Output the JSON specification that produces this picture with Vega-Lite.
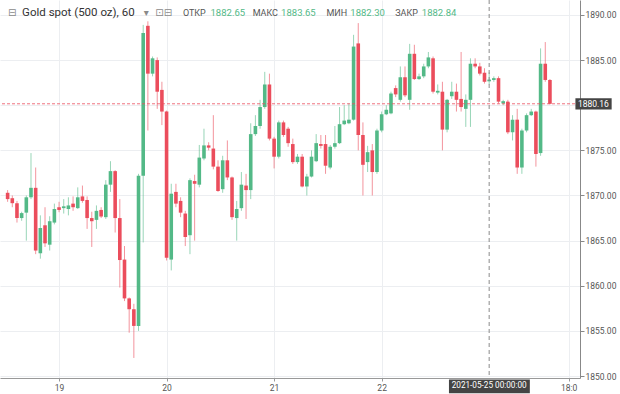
{
  "$schema": "https://vega.github.io/schema/vega-lite/v6.json",
  "width": 580,
  "height": 378,
  "autosize": {"type": "none"},
  "padding": {"left": 0, "top": 0, "right": 40, "bottom": 16},
  "background": "white",
  "config": {"view": {"stroke": null}, "font": "Roboto", "axis": {"labelFont": "Roboto"}},
  "datasets": {
    "candles": [
      {"k":0,"o":1870.3,"h":1870.6,"l":1869.3,"c":1869.6},
      {"k":1,"o":1869.7,"h":1870.0,"l":1868.7,"c":1869.15},
      {"k":2,"o":1869.15,"h":1869.4,"l":1867.0,"c":1867.5},
      {"k":3,"o":1867.5,"h":1868.2,"l":1867.2,"c":1868.05},
      {"k":4,"o":1868.1,"h":1870.0,"l":1865.0,"c":1869.8},
      {"k":5,"o":1869.8,"h":1874.7,"l":1869.6,"c":1870.85},
      {"k":6,"o":1870.85,"h":1873.1,"l":1863.5,"c":1863.9},
      {"k":7,"o":1863.6,"h":1867.8,"l":1863.0,"c":1866.4},
      {"k":8,"o":1866.7,"h":1868.7,"l":1864.3,"c":1864.7},
      {"k":9,"o":1864.55,"h":1867.7,"l":1863.9,"c":1867.15},
      {"k":10,"o":1867.0,"h":1869.1,"l":1866.8,"c":1868.5},
      {"k":11,"o":1868.7,"h":1869.3,"l":1868.15,"c":1868.4},
      {"k":12,"o":1868.6,"h":1869.6,"l":1868.0,"c":1868.8},
      {"k":13,"o":1868.5,"h":1869.8,"l":1867.8,"c":1868.9},
      {"k":14,"o":1869.1,"h":1869.9,"l":1868.3,"c":1868.7},
      {"k":15,"o":1868.6,"h":1870.9,"l":1868.5,"c":1869.8},
      {"k":16,"o":1869.9,"h":1871.1,"l":1869.2,"c":1869.4},
      {"k":17,"o":1869.5,"h":1869.9,"l":1866.3,"c":1867.5},
      {"k":18,"o":1867.5,"h":1868.2,"l":1864.3,"c":1867.15},
      {"k":19,"o":1867.3,"h":1868.9,"l":1866.3,"c":1868.3},
      {"k":20,"o":1868.4,"h":1868.7,"l":1867.5,"c":1867.67},
      {"k":21,"o":1867.6,"h":1871.7,"l":1867.4,"c":1871.2},
      {"k":22,"o":1871.2,"h":1873.8,"l":1870.4,"c":1872.7},
      {"k":23,"o":1872.7,"h":1872.8,"l":1865.9,"c":1867.5},
      {"k":24,"o":1867.5,"h":1869.6,"l":1859.8,"c":1862.85},
      {"k":25,"o":1862.9,"h":1864.4,"l":1858.3,"c":1858.6},
      {"k":26,"o":1858.6,"h":1858.7,"l":1854.8,"c":1857.4},
      {"k":27,"o":1857.4,"h":1858.0,"l":1852.0,"c":1855.55},
      {"k":28,"o":1855.55,"h":1872.4,"l":1855.0,"c":1872.2},
      {"k":29,"o":1872.2,"h":1888.9,"l":1864.8,"c":1888.0},
      {"k":30,"o":1888.8,"h":1889.3,"l":1877.2,"c":1883.5},
      {"k":31,"o":1883.5,"h":1885.4,"l":1883.2,"c":1885.2},
      {"k":32,"o":1885.0,"h":1885.3,"l":1879.6,"c":1881.5},
      {"k":33,"o":1881.7,"h":1882.6,"l":1877.8,"c":1879.3},
      {"k":34,"o":1879.3,"h":1879.4,"l":1862.8,"c":1863.1},
      {"k":35,"o":1862.9,"h":1871.3,"l":1861.7,"c":1870.2},
      {"k":36,"o":1870.4,"h":1871.3,"l":1868.7,"c":1869.1},
      {"k":37,"o":1869.4,"h":1869.8,"l":1867.6,"c":1868.1},
      {"k":38,"o":1868.0,"h":1868.3,"l":1864.4,"c":1865.4},
      {"k":39,"o":1865.6,"h":1871.9,"l":1863.5,"c":1871.7},
      {"k":40,"o":1871.6,"h":1872.3,"l":1865.0,"c":1871.3},
      {"k":41,"o":1871.2,"h":1875.6,"l":1870.9,"c":1874.2},
      {"k":42,"o":1874.1,"h":1877.4,"l":1873.9,"c":1875.55},
      {"k":43,"o":1875.55,"h":1875.9,"l":1875.0,"c":1875.3},
      {"k":44,"o":1875.2,"h":1878.9,"l":1872.9,"c":1873.2},
      {"k":45,"o":1873.2,"h":1873.9,"l":1870.4,"c":1870.5},
      {"k":46,"o":1870.7,"h":1874.4,"l":1870.3,"c":1873.9},
      {"k":47,"o":1873.9,"h":1876.1,"l":1871.7,"c":1872.0},
      {"k":48,"o":1872.0,"h":1872.1,"l":1867.3,"c":1867.6},
      {"k":49,"o":1867.5,"h":1869.4,"l":1865.0,"c":1868.5},
      {"k":50,"o":1868.6,"h":1872.6,"l":1868.3,"c":1871.2},
      {"k":51,"o":1871.1,"h":1872.4,"l":1867.4,"c":1870.6},
      {"k":52,"o":1870.6,"h":1878.0,"l":1869.6,"c":1876.8},
      {"k":53,"o":1876.8,"h":1878.9,"l":1876.6,"c":1877.7},
      {"k":54,"o":1877.7,"h":1880.6,"l":1877.4,"c":1879.8},
      {"k":55,"o":1879.8,"h":1883.7,"l":1879.6,"c":1882.3},
      {"k":56,"o":1882.3,"h":1883.5,"l":1876.1,"c":1876.3},
      {"k":57,"o":1876.3,"h":1876.5,"l":1873.0,"c":1874.3},
      {"k":58,"o":1874.3,"h":1878.3,"l":1874.1,"c":1878.1},
      {"k":59,"o":1878.1,"h":1878.3,"l":1876.5,"c":1876.7},
      {"k":60,"o":1877.4,"h":1877.6,"l":1875.4,"c":1875.8},
      {"k":61,"o":1875.7,"h":1876.3,"l":1873.5,"c":1873.7},
      {"k":62,"o":1873.7,"h":1874.6,"l":1873.5,"c":1874.3},
      {"k":63,"o":1874.3,"h":1874.6,"l":1870.9,"c":1871.0},
      {"k":64,"o":1871.0,"h":1872.4,"l":1870.0,"c":1872.1},
      {"k":65,"o":1872.1,"h":1875.0,"l":1872.0,"c":1874.3},
      {"k":66,"o":1873.8,"h":1876.8,"l":1873.7,"c":1875.8},
      {"k":67,"o":1875.7,"h":1876.7,"l":1875.2,"c":1875.5},
      {"k":68,"o":1875.7,"h":1876.7,"l":1872.4,"c":1873.3},
      {"k":69,"o":1873.1,"h":1875.6,"l":1872.9,"c":1875.4},
      {"k":70,"o":1875.4,"h":1877.7,"l":1875.2,"c":1875.8},
      {"k":71,"o":1875.8,"h":1879.8,"l":1875.7,"c":1877.9},
      {"k":72,"o":1877.9,"h":1880.0,"l":1877.8,"c":1878.3},
      {"k":73,"o":1878.0,"h":1880.2,"l":1877.9,"c":1878.4},
      {"k":74,"o":1878.4,"h":1887.8,"l":1878.3,"c":1886.5},
      {"k":75,"o":1886.85,"h":1889.1,"l":1875.0,"c":1876.7},
      {"k":76,"o":1876.7,"h":1878.1,"l":1870.0,"c":1873.4},
      {"k":77,"o":1873.7,"h":1875.5,"l":1872.6,"c":1874.8},
      {"k":78,"o":1875.0,"h":1875.7,"l":1870.0,"c":1872.6},
      {"k":79,"o":1872.6,"h":1877.4,"l":1872.4,"c":1877.2},
      {"k":80,"o":1877.2,"h":1879.3,"l":1877.0,"c":1879.0},
      {"k":81,"o":1879.0,"h":1880.0,"l":1878.9,"c":1879.5},
      {"k":82,"o":1879.1,"h":1881.5,"l":1879.0,"c":1881.3},
      {"k":83,"o":1881.9,"h":1882.2,"l":1880.9,"c":1881.2},
      {"k":84,"o":1880.6,"h":1884.3,"l":1880.4,"c":1883.1},
      {"k":85,"o":1883.1,"h":1884.3,"l":1880.9,"c":1881.1},
      {"k":86,"o":1880.6,"h":1886.8,"l":1879.5,"c":1885.7},
      {"k":87,"o":1885.7,"h":1886.7,"l":1882.8,"c":1882.9},
      {"k":88,"o":1882.9,"h":1883.5,"l":1882.8,"c":1883.2},
      {"k":89,"o":1883.2,"h":1884.6,"l":1883.0,"c":1884.3},
      {"k":90,"o":1884.3,"h":1885.9,"l":1884.1,"c":1885.3},
      {"k":91,"o":1885.2,"h":1885.4,"l":1881.3,"c":1881.5},
      {"k":92,"o":1881.4,"h":1882.3,"l":1881.2,"c":1881.6},
      {"k":93,"o":1881.5,"h":1882.6,"l":1875.0,"c":1877.3},
      {"k":94,"o":1877.3,"h":1880.7,"l":1877.0,"c":1880.6},
      {"k":95,"o":1881.0,"h":1882.6,"l":1880.7,"c":1881.5},
      {"k":96,"o":1881.5,"h":1882.4,"l":1879.3,"c":1880.6},
      {"k":97,"o":1880.7,"h":1885.9,"l":1879.3,"c":1879.8},
      {"k":98,"o":1879.6,"h":1881.2,"l":1877.6,"c":1880.6},
      {"k":99,"o":1880.6,"h":1885.2,"l":1877.6,"c":1884.6},
      {"k":100,"o":1884.6,"h":1885.2,"l":1884.1,"c":1884.3},
      {"k":101,"o":1884.3,"h":1884.7,"l":1883.3,"c":1883.5},
      {"k":102,"o":1883.6,"h":1884.1,"l":1882.4,"c":1882.6},
      {"k":103,"o":1882.65,"h":1883.65,"l":1882.3,"c":1882.84},
      {"k":104,"o":1882.8,"h":1883.2,"l":1882.6,"c":1883.0},
      {"k":105,"o":1883.0,"h":1883.2,"l":1880.2,"c":1880.4},
      {"k":106,"o":1880.2,"h":1880.6,"l":1880.0,"c":1880.45},
      {"k":107,"o":1880.4,"h":1880.6,"l":1876.8,"c":1877.0},
      {"k":108,"o":1877.0,"h":1878.9,"l":1876.1,"c":1878.4},
      {"k":109,"o":1878.4,"h":1879.6,"l":1872.4,"c":1873.1},
      {"k":110,"o":1873.1,"h":1877.4,"l":1872.4,"c":1877.2},
      {"k":111,"o":1877.2,"h":1879.1,"l":1877.0,"c":1878.9},
      {"k":112,"o":1878.9,"h":1879.6,"l":1878.8,"c":1879.3},
      {"k":113,"o":1879.3,"h":1879.4,"l":1873.2,"c":1874.6},
      {"k":114,"o":1874.7,"h":1886.3,"l":1874.4,"c":1884.6},
      {"k":115,"o":1884.6,"h":1887.0,"l":1882.6,"c":1882.8},
      {"k":116,"o":1882.8,"h":1882.9,"l":1880.1,"c":1880.16}
    ],
    "header": [
      {"k":0.07,"t":"⊟","g":"icon"},
      {"k":3.1,"t":"Gold spot (500 oz), 60","g":"name"},
      {"k":29.1,"t":"▾","g":"icon"},
      {"k":31.6,"t":"⊡⊟","g":"icon"},
      {"k":37.49,"t":"ОТКР","g":"lbl"},
      {"k":43.4,"t":"1882.65","g":"val"},
      {"k":52.41,"t":"МАКС","g":"lbl"},
      {"k":58.5,"t":"1883.65","g":"val"},
      {"k":68.18,"t":"МИН","g":"lbl"},
      {"k":73.3,"t":"1882.30","g":"val"},
      {"k":82.9,"t":"ЗАКР","g":"lbl"},
      {"k":88.6,"t":"1882.84","g":"val"}
    ],
    "one": [{}]
  },
  "layer": [
    {
      "data": {"name": "candles"},
      "mark": {"type": "rule", "strokeWidth": 1, "opacity": 0.6},
      "encoding": {
        "x": {"field": "k", "type": "quantitative",
          "scale": {"domain": [-0.561, 121.36], "nice": false, "zero": false},
          "axis": {"orient": "bottom", "title": null, "values": [11, 34, 57, 80, 120],
            "labelExpr": "datum.value==11?'19':datum.value==34?'20':datum.value==57?'21':datum.value==80?'22':'18:0'",
            "grid": true, "gridColor": "#eceef1", "tickSize": 3, "tickColor": "#999", "domainColor": "#999",
            "labelFontSize": 8.5, "labelColor": "#555", "labelPadding": 2}},
        "y": {"field": "l", "type": "quantitative",
          "scale": {"domain": [1849.78, 1891.66], "nice": false, "zero": false},
          "axis": {"orient": "right", "title": null,
            "values": [1850, 1852.5, 1855, 1857.5, 1860, 1862.5, 1865, 1867.5, 1870, 1872.5, 1875, 1877.5, 1880, 1882.5, 1885, 1887.5, 1890],
            "labelExpr": "datum.value == 1880 ? '' : format(datum.value, '.2f')",
            "grid": true, "gridColor": "#eceef1", "tickSize": 4, "tickColor": "#888", "domainColor": "#888",
            "labelFontSize": 8.5, "labelColor": "#555", "labelPadding": 1}},
        "y2": {"field": "h"},
        "color": {"condition": {"test": "datum.c >= datum.o", "value": "#53b987"}, "value": "#eb4d5c"}
      }
    },
    {
      "data": {"name": "candles"},
      "mark": {"type": "bar", "width": 3.6},
      "encoding": {
        "x": {"field": "k", "type": "quantitative"},
        "y": {"field": "o", "type": "quantitative"},
        "y2": {"field": "c"},
        "color": {"condition": {"test": "datum.c >= datum.o", "value": "#53b987"}, "value": "#eb4d5c"}
      }
    },
    {
      "data": {"name": "one"},
      "mark": {"type": "rule", "stroke": "#eb4d5c", "strokeDash": [3, 2], "strokeWidth": 1, "opacity": 0.8},
      "encoding": {"y": {"datum": 1880.16, "type": "quantitative"}}
    },
    {
      "data": {"name": "one"},
      "mark": {"type": "rule", "stroke": "#8a8a8a", "strokeDash": [4, 3], "strokeWidth": 1},
      "encoding": {"x": {"datum": 103, "type": "quantitative"}}
    },
    {
      "data": {"name": "one"},
      "mark": {"type": "rect", "fill": "#444"},
      "encoding": {
        "x": {"datum": 121.45, "type": "quantitative"}, "x2": {"datum": 129.2},
        "y": {"datum": 1880.78, "type": "quantitative"}, "y2": {"datum": 1879.54}
      }
    },
    {
      "data": {"name": "one"},
      "mark": {"type": "text", "fill": "white", "fontSize": 8.5, "align": "center", "baseline": "middle"},
      "encoding": {
        "x": {"datum": 125.3, "type": "quantitative"},
        "y": {"datum": 1880.16, "type": "quantitative"},
        "text": {"value": "1880.16"}
      }
    },
    {
      "data": {"name": "one"},
      "mark": {"type": "rect", "fill": "#444"},
      "encoding": {
        "x": {"datum": 94.4, "type": "quantitative"}, "x2": {"datum": 111.7},
        "y": {"datum": 1849.6, "type": "quantitative"}, "y2": {"datum": 1848.1}
      }
    },
    {
      "data": {"name": "one"},
      "mark": {"type": "text", "fill": "white", "fontSize": 8.2, "align": "center", "baseline": "middle"},
      "encoding": {
        "x": {"datum": 103, "type": "quantitative"},
        "y": {"datum": 1848.85, "type": "quantitative"},
        "text": {"value": "2021-05-25 00:00:00"}
      }
    },
    {
      "data": {"name": "header"},
      "transform": [{"filter": "datum.g == 'icon'"}],
      "mark": {"type": "text", "align": "left", "baseline": "middle", "font": "DejaVu Sans", "fontSize": 10, "fill": "#8a8a8a"},
      "encoding": {
        "x": {"field": "k", "type": "quantitative"},
        "y": {"datum": 1890.22, "type": "quantitative"},
        "text": {"field": "t"}
      }
    },
    {
      "data": {"name": "header"},
      "transform": [{"filter": "datum.g == 'name'"}],
      "mark": {"type": "text", "align": "left", "baseline": "middle", "fontSize": 11.5, "fill": "#333333"},
      "encoding": {
        "x": {"field": "k", "type": "quantitative"},
        "y": {"datum": 1890.22, "type": "quantitative"},
        "text": {"field": "t"}
      }
    },
    {
      "data": {"name": "header"},
      "transform": [{"filter": "datum.g == 'lbl'"}],
      "mark": {"type": "text", "align": "left", "baseline": "middle", "fontSize": 9, "fill": "#555555"},
      "encoding": {
        "x": {"field": "k", "type": "quantitative"},
        "y": {"datum": 1890.22, "type": "quantitative"},
        "text": {"field": "t"}
      }
    },
    {
      "data": {"name": "header"},
      "transform": [{"filter": "datum.g == 'val'"}],
      "mark": {"type": "text", "align": "left", "baseline": "middle", "fontSize": 9.5, "fill": "#53b987"},
      "encoding": {
        "x": {"field": "k", "type": "quantitative"},
        "y": {"datum": 1890.22, "type": "quantitative"},
        "text": {"field": "t"}
      }
    }
  ]
}
